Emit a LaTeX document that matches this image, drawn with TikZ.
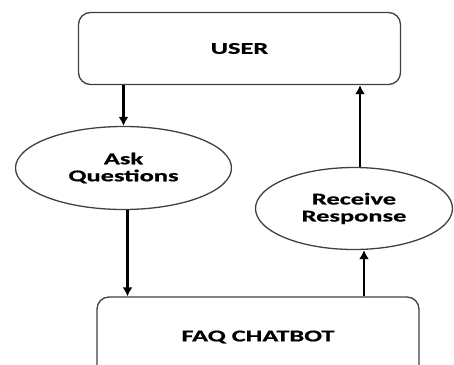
\documentclass[tikz,border=0pt]{standalone}
\usepackage{fontspec}
\newfontfamily\boxfont[FakeStretch=1.6,FakeBold=0.8]{Carlito}
\usetikzlibrary{shapes.geometric,arrows.meta}
\begin{document}
\begin{tikzpicture}[x=1pt,y=-1pt,
  box/.style={draw=black!75,line width=1.3pt,rounded corners=12pt,minimum width=322pt,inner sep=0pt,font=\boxfont\bfseries\fontsize{16.5}{17}\selectfont},
  oval/.style={draw=black!75,line width=1.3pt,ellipse,inner sep=0pt,align=center,font=\boxfont\bfseries\fontsize{16.5}{17}\selectfont},
  flow/.style={-{Latex[length=9pt,width=10pt]},line width=2.3pt}]
 \clip (0,0) rectangle (454,364); %画像の枠
 \node[box,minimum height=72pt] (user) at (239.5,48.5) {USER}; %利用者
 \node[box,minimum height=80pt] (bot) at (258,337) {FAQ CHATBOT}; %チャットボット
 \node[oval,minimum width=216pt,minimum height=83pt] (ask) at (123.5,168) {Ask\\Questions}; %質問
 \node[oval,minimum width=197pt,minimum height=82pt] (reply) at (354,208.5) {Receive\\Response}; %応答
 \draw[flow] (ask.north |- user.south) -- (ask.north); %USERから質問へ
 \draw[flow] ([xshift=4pt]ask.south) -- ([xshift=4pt]ask.south |- bot.north); %質問からボットへ
 \draw[flow] ([xshift=10pt]reply.south |- bot.north) -- ([xshift=10pt]reply.south); %ボットから応答へ
 \draw[flow] ([xshift=6pt]reply.north) -- ([xshift=6pt]reply.north |- user.south); %応答からUSERへ
\end{tikzpicture}
\end{document}
